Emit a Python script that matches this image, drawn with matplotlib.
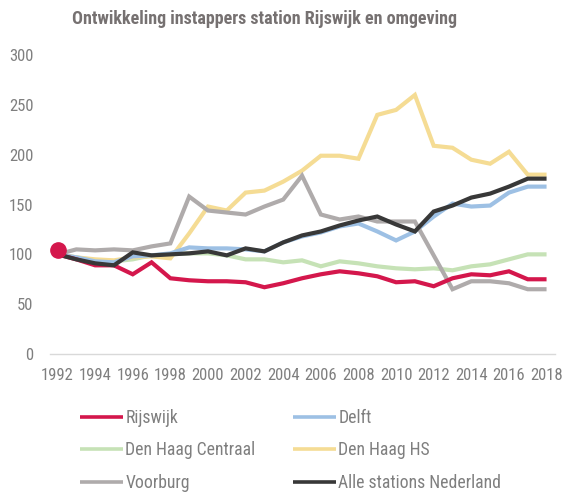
import matplotlib
matplotlib.use("Agg")
import matplotlib.pyplot as plt

plt.rcParams['font.family'] = ['Roboto Condensed', 'Liberation Sans Narrow', 'Roboto', 'DejaVu Sans']

years = list(range(1992, 2019))

rijswijk = [100, 95, 89, 89, 80, 92, 76, 74, 73, 73, 72, 67, 71, 76, 80, 83, 81, 78, 72, 73, 68, 76, 80, 79, 83, 75, 75]
delft = [100, 97, 93, 92, 98, 99, 101, 107, 106, 106, 105, 103, 112, 118, 122, 128, 131, 123, 114, 123, 138, 151, 148, 149, 162, 168, 168]
dh_centraal = [100, 97, 94, 93, 95, 99, 100, 101, 101, 99, 95, 95, 92, 94, 88, 93, 91, 88, 86, 85, 86, 84, 88, 90, 95, 100, 100]
dh_hs = [100, 97, 95, 94, 97, 98, 96, 121, 148, 144, 162, 164, 173, 184, 199, 199, 196, 240, 245, 260, 209, 207, 195, 191, 203, 180, 180]
voorburg = [100, 105, 104, 105, 104, 108, 111, 158, 144, 142, 140, 148, 155, 179, 140, 135, 138, 133, 133, 133, 99, 65, 73, 73, 71, 65, 65]
alle = [100, 95, 91, 89, 102, 99, 100, 101, 103, 99, 106, 103, 112, 119, 123, 129, 134, 138, 130, 123, 143, 149, 157, 161, 168, 176, 176]

labels = ["Rijswijk", "Delft", "Den Haag Centraal", "Den Haag HS", "Voorburg", "Alle stations Nederland"]
series = [rijswijk, delft, dh_centraal, dh_hs, voorburg, alle]
colors = ["#D4174C", "#9DC0E4", "#C6E2B6", "#F5DC94", "#AFABAB", "#383838"]
zorders = [5, 3, 1, 2, 4, 6]

x_ticks = list(range(1992, 2019, 2))
y_ticks = [0, 50, 100, 150, 200, 250, 300]

fig = plt.figure(figsize=(5.66, 4.92), dpi=100)
ax = fig.add_axes([0.0883, 0.2805, 0.8923, 0.6075])

handles = {}
for lab, s, c, z in zip(labels, series, colors, zorders):
    ln, = ax.plot(years, s, color=c, lw=3.0, zorder=z, solid_joinstyle='miter', solid_capstyle='butt')
    handles[lab] = ln

ax.plot([years[0]], [rijswijk[0] + 4], marker='o', ms=11, color=colors[0], zorder=7, ls='none')

ax.set_xlim(1991.6, 2018.45)
ax.set_ylim(0, 300)
ax.set_xticks(x_ticks)
ax.set_yticks(y_ticks)
ax.tick_params(length=0, labelsize=12, colors="#7F7F7F")
ax.tick_params(axis='x', pad=10)
ax.tick_params(axis='y', pad=12)
for sp in ['top', 'right', 'left']:
    ax.spines[sp].set_visible(False)
ax.spines['bottom'].set_color('#D9D9D9')
ax.spines['bottom'].set_linewidth(1.0)

fig.text(0.468, 0.962, "Ontwikkeling instappers station Rijswijk en omgeving",
         ha='center', va='center', fontsize=13, fontweight='bold', color='#767171')

order = ["Rijswijk", "Den Haag Centraal", "Voorburg", "Delft", "Den Haag HS", "Alle stations Nederland"]
leg = fig.legend([handles[o] for o in order], order, ncol=2, loc='upper left',
                 bbox_to_anchor=(0.1405, 0.169), frameon=False, fontsize=12.7,
                 handlelength=2.45, handletextpad=0.15, columnspacing=2.1,
                 labelspacing=0.82, borderaxespad=0, borderpad=0)
for t in leg.get_texts():
    t.set_color('#7F7F7F')
for h in leg.legend_handles:
    h.set_linewidth(2.6)

fig.savefig("out.png", dpi=100)
